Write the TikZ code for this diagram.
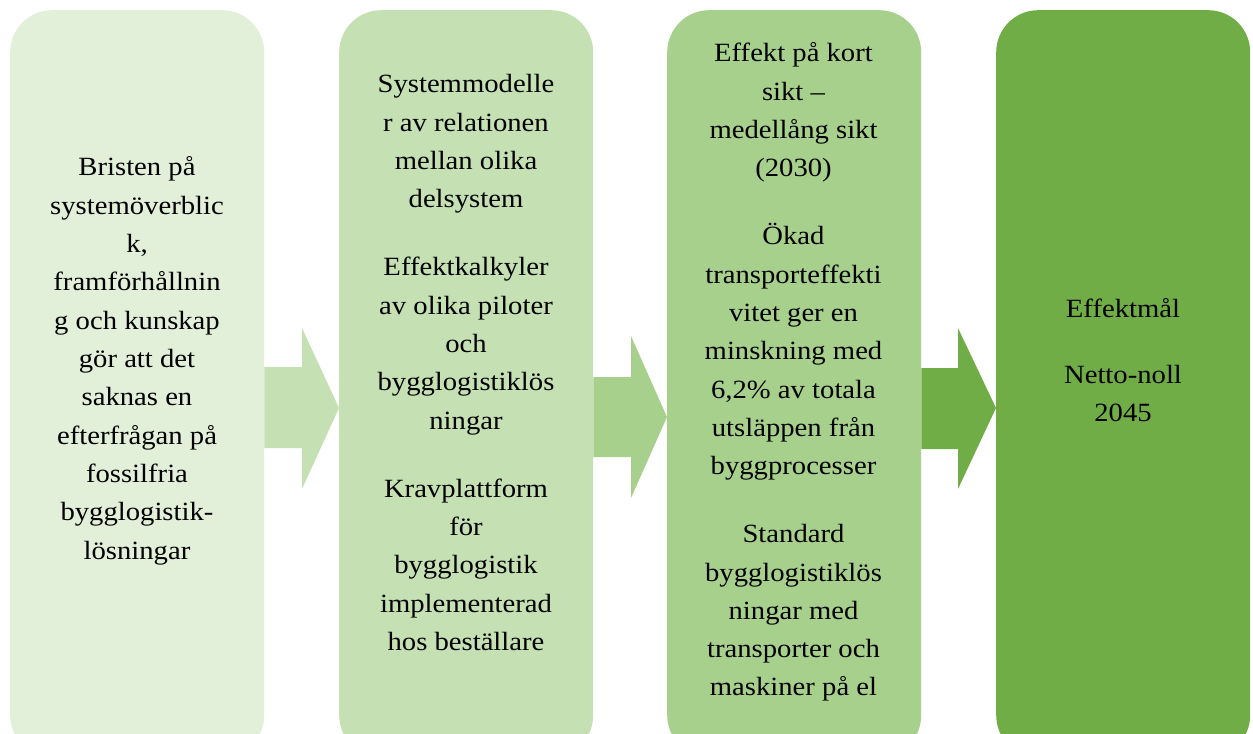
\documentclass[tikz,border=0pt]{standalone}
\usepackage{fontspec}
\setmainfont{Liberation Serif}[FakeStretch=1.09]
\definecolor{gA}{HTML}{E2EFD9}
\definecolor{gB}{HTML}{C5E0B3}
\definecolor{gC}{HTML}{A8D08D}
\definecolor{gD}{HTML}{70AD47}
\newcommand\boxfont{\fontsize{26.3bp}{38.3bp}\selectfont}
\begin{document}
\begin{tikzpicture}[x=1bp,y=-1bp,
  box/.style={draw=none, rounded corners=42bp, inner sep=0pt, minimum width=254bp, minimum height=747bp, anchor=north west},
  txt/.style={inner sep=0pt, anchor=base, font=\boxfont, text=black}]
\useasboundingbox (0,0) rectangle (1253,734);
\clip (0,0) rectangle (1253,734);
\node[box, fill=gA] (b1) at (10,10) {};
\node[box, fill=gB] (b2) at (339,10) {};
\node[box, fill=gC] (b3) at (667,10) {};
\node[box, fill=gD] (b4) at (996,10) {};
% arrows
\fill[gB] (b1.east |- 0,367) -- (302,367) -- (302,328) -- (b2.west |- 0,408) -- (302,489) -- (302,448) -- (b1.east |- 0,448) -- cycle;
\fill[gC] (b2.east |- 0,377) -- (631,377) -- (631,336) -- (b3.west |- 0,417) -- (631,498) -- (631,457) -- (b2.east |- 0,457) -- cycle;
\fill[gD] (b3.east |- 0,368) -- (958,368) -- (958,328) -- (b4.west |- 0,408) -- (958,489) -- (958,449) -- (b3.east |- 0,449) -- cycle;
% texts
\node[txt] (t1) at (137,176) {\begin{tabular}[t]{@{}c@{}}Bristen på\\ systemöverblic\\ k,\\ framförhållnin\\ g och kunskap\\ gör att det\\ saknas en\\ efterfrågan på\\ fossilfria\\ bygglogistik-\\ lösningar\end{tabular}};
\node[txt] (t2) at (466,93) {\begin{tabular}[t]{@{}c@{}}Systemmodelle\\ r av relationen\\ mellan olika\\ delsystem\\[29.7bp] Effektkalkyler\\ av olika piloter\\ och\\ bygglogistiklös\\ ningar\\[29.7bp] Kravplattform\\ för\\ bygglogistik\\ implementerad\\ hos beställare\end{tabular}};
\node[txt] (t3) at (793.5,62) {\begin{tabular}[t]{@{}c@{}}Effekt på kort\\ sikt –\\ medellång sikt\\ (2030)\\[29.7bp] Ökad\\ transporteffekti\\ vitet ger en\\ minskning med\\ 6,2\% av totala\\ utsläppen från\\ byggprocesser\\[29.7bp] Standard\\ bygglogistiklös\\ ningar med\\ transporter och\\ maskiner på el\end{tabular}};
\node[txt] (t4) at (1123,317) {\begin{tabular}[t]{@{}c@{}}Effektmål\\[28bp] Netto-noll\\ 2045\end{tabular}};
\end{tikzpicture}
\end{document}
